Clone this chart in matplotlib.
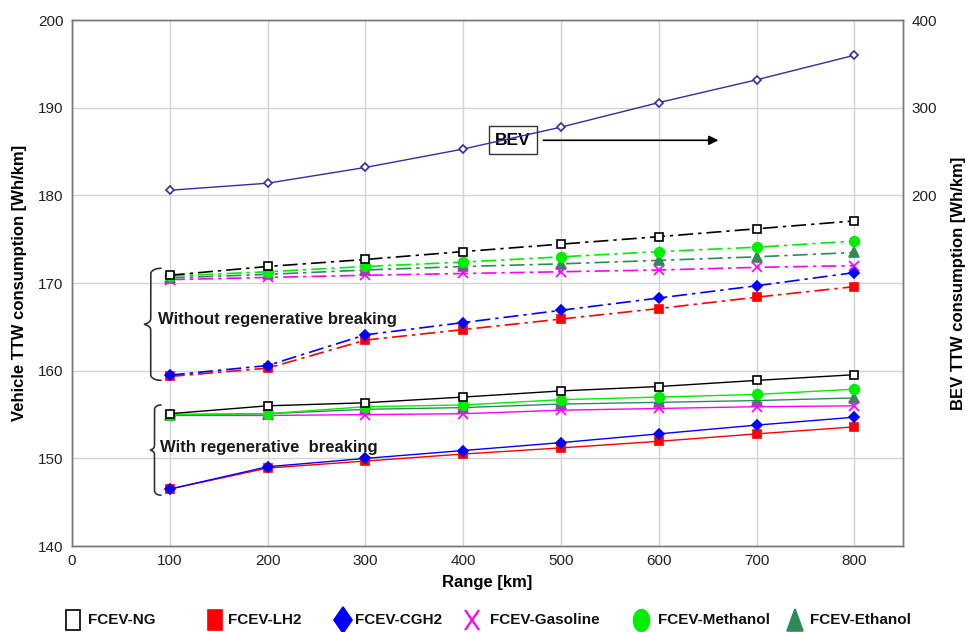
import numpy as np
import matplotlib
matplotlib.use('Agg')
import matplotlib.pyplot as plt
from matplotlib.lines import Line2D
from matplotlib.markers import MarkerStyle
from matplotlib.transforms import Affine2D

plt.rcParams['font.family'] = ['Liberation Sans', 'DejaVu Sans']

ranges = [100, 200, 300, 400, 500, 600, 700, 800]

# BEV consumption (right axis)
bev = [206, 214, 232, 253, 278, 306, 332, 360]

# without regenerative braking (dash-dot)
ng_wo = [170.9, 171.9, 172.7, 173.6, 174.45, 175.3, 176.2, 177.1]
lh2_wo = [159.35, 160.3, 163.5, 164.7, 165.9, 167.1, 168.4, 169.6]
cgh2_wo = [159.5, 160.6, 164.1, 165.5, 166.9, 168.3, 169.7, 171.2]
gas_wo = [170.4, 170.65, 170.9, 171.1, 171.3, 171.5, 171.8, 172.0]
meth_wo = [170.8, 171.3, 171.9, 172.4, 173.0, 173.6, 174.1, 174.8]
eth_wo = [170.6, 171.0, 171.5, 171.9, 172.2, 172.6, 173.0, 173.5]

# with regenerative braking (solid)
ng_w = [155.1, 156.0, 156.35, 157.0, 157.7, 158.2, 158.9, 159.55]
lh2_w = [146.5, 148.9, 149.7, 150.5, 151.2, 151.95, 152.8, 153.6]
cgh2_w = [146.5, 149.05, 150.0, 150.9, 151.8, 152.8, 153.8, 154.7]
gas_w = [154.9, 154.9, 155.0, 155.1, 155.5, 155.7, 155.9, 156.0]
meth_w = [155.0, 155.1, 155.9, 156.1, 156.7, 157.0, 157.3, 157.9]
eth_w = [155.0, 155.1, 155.6, 155.8, 156.2, 156.4, 156.6, 156.9]

names = ['FCEV-NG', 'FCEV-LH2', 'FCEV-CGH2', 'FCEV-Gasoline',
         'FCEV-Methanol', 'FCEV-Ethanol']
colors = ['black', '#ff0000', '#0000ff', '#ff00ff', '#00ee00', '#2e8b57']
markers = ['s', 's', 'D', 'x', 'o', '^']
faces = ['white', '#ff0000', '#0000ff', '#ff00ff', '#00ee00', '#2e8b57']
msizes = [6, 6, 5.5, 7, 7, 6.5]
wo_series = [ng_wo, lh2_wo, cgh2_wo, gas_wo, meth_wo, eth_wo]
w_series = [ng_w, lh2_w, cgh2_w, gas_w, meth_w, eth_w]

fig = plt.figure(figsize=(9.66, 6.32), dpi=100)
ax = fig.add_axes([0.0745, 0.136, 0.8605, 0.832])
ax2 = ax.twinx()

dashdot = (0, (9, 3, 2, 3))
# draw in reverse so black/green sit on top like the original
for i in [5, 3, 4, 1, 2, 0]:
    ax.plot(ranges, wo_series[i], color=colors[i], lw=1.2, ls=dashdot,
            marker=markers[i], ms=msizes[i], mfc=faces[i], mec=colors[i],
            mew=1.2, zorder=3)
    ax.plot(ranges, w_series[i], color=colors[i], lw=1.0, ls='-',
            marker=markers[i], ms=msizes[i], mfc=faces[i], mec=colors[i],
            mew=1.2, zorder=3)

ax2.plot(ranges, bev, color='#3030a0', lw=1.0, marker='D', ms=4.5,
         mfc='white', mec='#3030a0', mew=1.2)

ax.set_xlim(0, 850)
ax.set_ylim(140, 200)
ax.set_xticks(np.arange(0, 801, 100))
ax.set_yticks(np.arange(140, 201, 10))
ax2.set_ylim(-200, 400)
ax2.set_yticks([200, 300, 400])
ax.grid(True, color='#d4d4d4', lw=1.0, zorder=0)
ax.set_axisbelow(True)

for a in (ax, ax2):
    a.tick_params(length=0, labelsize=11, labelcolor='#222222', pad=6)
    for s in a.spines.values():
        s.set_color('#777777')
        s.set_linewidth(1.0)

ax.set_xlabel('Range [km]', fontsize=12, fontweight='bold', labelpad=5)
ax.set_ylabel('Vehicle TTW consumption [Wh/km]', fontsize=12,
              fontweight='bold', labelpad=8)
ax2.set_ylabel('BEV TTW consumption [Wh/km]', fontsize=12,
               fontweight='bold', labelpad=10)


def brace(axis, x0, x1, y0, y1):
    # left-facing curly brace: cusp at x0 in the middle, hooks at x1
    t = np.linspace(0, 1, 300)
    ys = y0 + (y1 - y0) * t
    s = np.abs(t - 0.5) * 2
    prof = np.where(s > 0.9, (s - 0.9) / 0.1, 0.0)
    mid = np.where(s < 0.1, (0.1 - s) / 0.1, 0.0)
    w = x1 - x0
    xs = x0 + w * (0.45 + 0.55 * (1 - np.sqrt(1 - prof ** 2))
                   - 0.45 * (1 - np.sqrt(1 - mid ** 2)))
    axis.plot(xs, ys, color='#333333', lw=1.2, zorder=4,
              solid_capstyle='round')


brace(ax, 72, 91, 158.9, 171.7)
brace(ax, 79, 91, 145.8, 156.1)

ax.text(88, 165.9, 'Without regenerative breaking', fontsize=12,
        fontweight='bold', color='#1a1a1a', va='center', ha='left')
ax.text(90.5, 151.3, 'With regenerative  breaking', fontsize=12,
        fontweight='bold', color='#1a1a1a', va='center', ha='left')

ax.annotate('', xy=(661, 186.3), xytext=(482, 186.3),
            arrowprops=dict(arrowstyle='-|>', color='black', lw=1.2,
                            mutation_scale=14, shrinkA=0, shrinkB=0),
            zorder=5)
ax.text(451, 186.3, 'BEV', fontsize=12.5, fontweight='bold', ha='center',
        va='center', zorder=6,
        bbox=dict(boxstyle='square,pad=0.38', fc='white', ec='#333333',
                  lw=1.0))

# legend drawn entry by entry to match the original's uneven spacing
leg_mark_x = [73, 215, 343, 472, 641, 795]
leg_text_x = [88, 228, 355, 490, 658, 810]
leg_ms = [11, 11, 10, 11, 12, 12]
leg_y = 1 - 620 / 632
for i in range(6):
    ms = MarkerStyle(markers[i], transform=Affine2D().scale(0.95, 1.3))
    fig.add_artist(Line2D([leg_mark_x[i] / 966], [leg_y], ls='none',
                          marker=ms, color=colors[i], mfc=faces[i],
                          mec=colors[i], ms=leg_ms[i],
                          mew=1.2 if i != 3 else 1.6,
                          transform=fig.transFigure))
    fig.text(leg_text_x[i] / 966, leg_y, names[i], fontsize=11,
             fontweight='bold', va='center', ha='left', color='#111111')

fig.savefig('out.png', dpi=100)
